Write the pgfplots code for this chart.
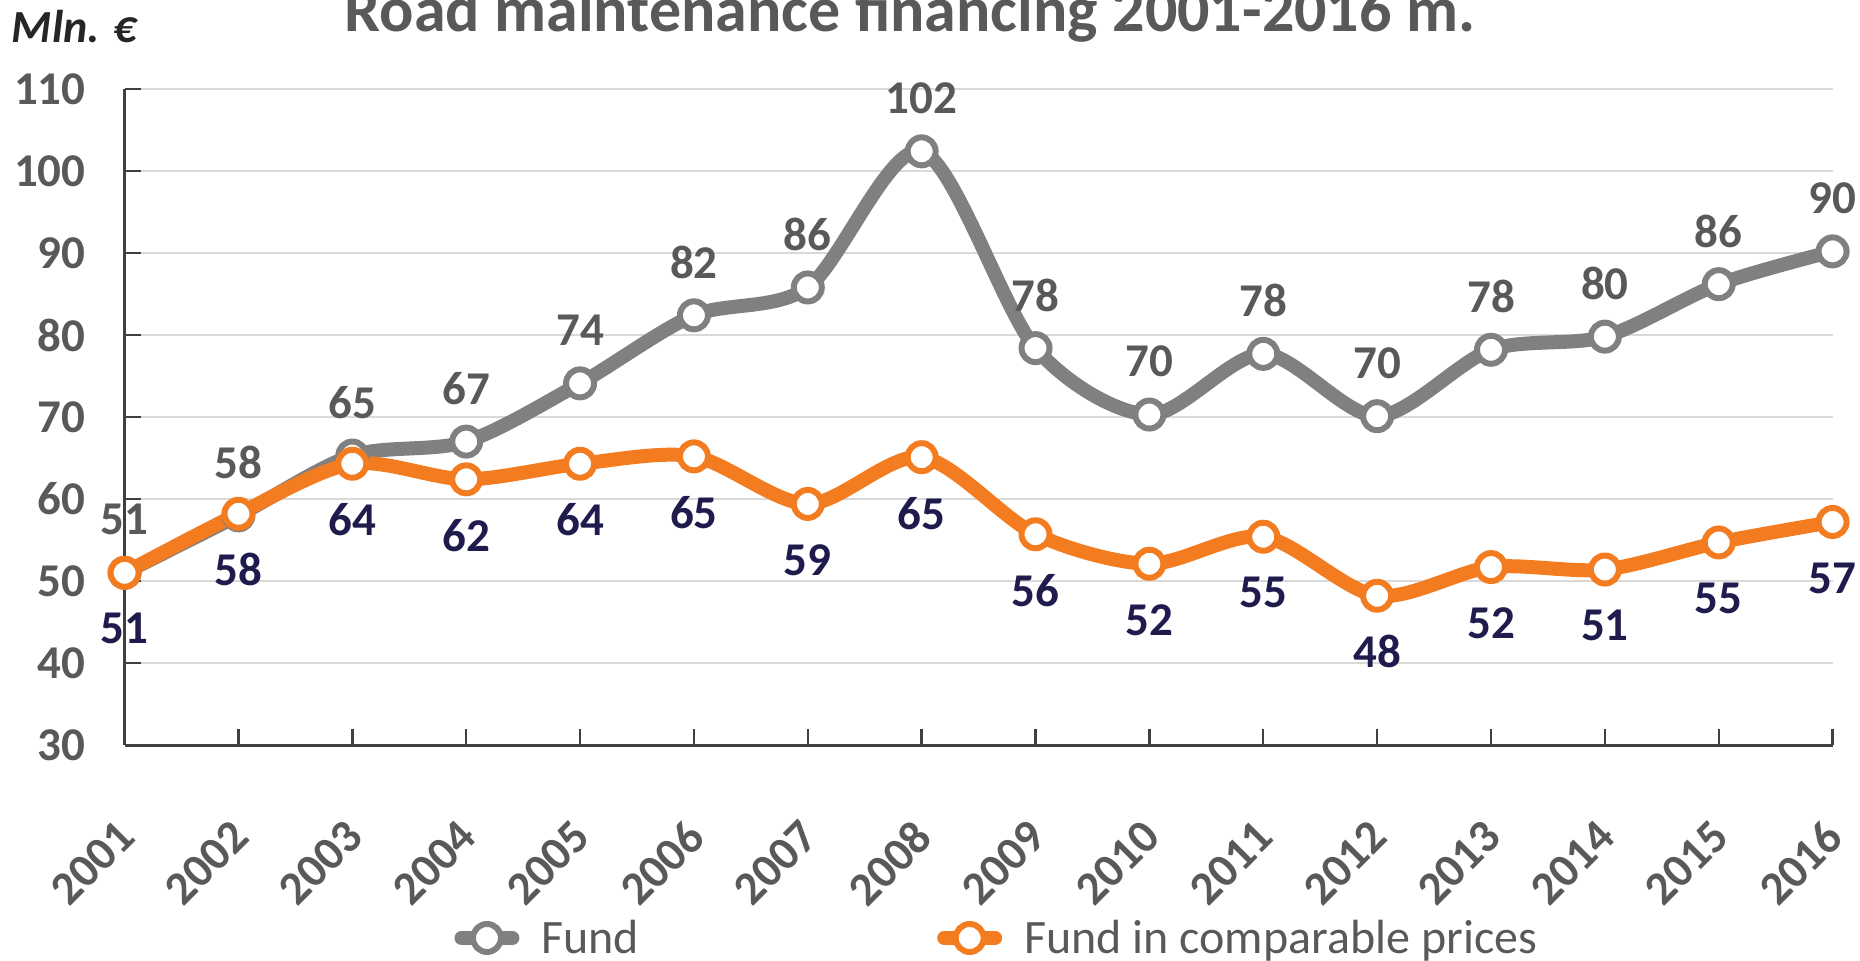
\documentclass[border=0pt]{standalone}
\usepackage{pgfplots}
\usepackage{pgfplotstable}
\usepackage{fontspec}
\setmainfont{Carlito}
\pgfplotsset{compat=1.18}
\definecolor{fundgray}{HTML}{808080}
\definecolor{txtgray}{HTML}{595959}
\definecolor{orng}{HTML}{F47C20}
\definecolor{navy}{HTML}{1F1C4D}
\definecolor{axgray}{HTML}{404040}
\definecolor{gridgray}{HTML}{D9D9D9}

\pgfplotstableread{
x y lab
0 51.0 51
1 58.0 58
2 65.3 65
3 67.0 67
4 74.1 74
5 82.4 82
6 85.8 86
7 102.4 102
8 78.4 78
9 70.3 70
10 77.7 78
11 70.1 70
12 78.2 78
13 79.8 80
14 86.2 86
15 90.2 90
}\fund
\pgfplotstableread{
x y lab
0 51.0 51
1 58.2 58
2 64.3 64
3 62.4 62
4 64.3 64
5 65.2 65
6 59.4 59
7 65.1 65
8 55.7 56
9 52.1 52
10 55.4 55
11 48.2 48
12 51.7 52
13 51.4 51
14 54.7 55
15 57.2 57
}\comp

\begin{document}
\begin{tikzpicture}
\begin{axis}[
  at={(62.3pt,107.5pt)}, anchor=south west,
  scale only axis, width=854pt, height=328pt,
  xmin=0, xmax=15, ymin=30, ymax=110,
  xtick={0,...,15},
  xticklabels={2001,2002,2003,2004,2005,2006,2007,2008,2009,2010,2011,2012,2013,2014,2015,2016},
  ytick={30,40,...,110},
  /pgf/number format/assume math mode=true,
  axis x line=bottom, axis y line=left,
  axis line style={-, line width=1.5pt, color=axgray},
  tick align=inside, major tick length=8pt,
  tick style={line width=1.2pt, color=axgray},
  ymajorgrids, grid style={line width=1pt, color=gridgray},
  ticklabel style={font=\bfseries\fontsize{23.5}{28}\selectfont, text=txtgray},
  yticklabel style={xshift=-16pt},
  xticklabel style={yshift=-42pt, xshift=1pt, rotate=45, anchor=east, inner sep=0pt},
  clip=false,
  legend columns=2,
  legend style={at={(0.1929,-0.2942)}, anchor=west, draw=none, fill=none,
    inner sep=0pt,
    font=\fontsize{24}{29}\selectfont, text=txtgray,
    /tikz/every odd column/.append style={column sep=9pt},
    /tikz/every even column/.append style={column sep=147pt}},
  legend image code/.code={
    \draw[#1, mark repeat=2, mark phase=2] plot coordinates {(3.5pt,0pt) (16.25pt,0pt) (29pt,0pt)};
  },
]
\addplot[color=fundgray, line width=7pt, smooth, line cap=round, line join=round,
  mark=*, mark size=7pt, mark options={fill=white, draw=fundgray, line width=3pt},
  nodes near coords, point meta=explicit symbolic,
  every node near coord/.append style={anchor=center, yshift=26.5pt,
    font=\bfseries\fontsize{23.5}{28}\selectfont, text=txtgray}]
  table[x=x, y=y, meta=lab] {\fund};
\addlegendentry{Fund}
\addplot[color=orng, line width=7pt, smooth, line cap=round, line join=round,
  mark=*, mark size=7pt, mark options={fill=white, draw=orng, line width=3pt},
  nodes near coords, point meta=explicit symbolic,
  every node near coord/.append style={anchor=center, yshift=-28pt,
    font=\bfseries\fontsize{23.5}{28}\selectfont, text=navy}]
  table[x=x, y=y, meta=lab] {\comp};
\addlegendentry{Fund in comparable prices}
\end{axis}
\node[anchor=base, inner sep=0pt, font=\bfseries\fontsize{32}{38}\selectfont, text=txtgray]
  at (455pt,464pt) {Road maintenance financing 2001-2016 m.};
\node[anchor=base west, inner sep=0pt, font=\bfseries\itshape\fontsize{23}{27}\selectfont, text=black!85]
  at (5.75pt,458.5pt) {Mln. €};
\pgfresetboundingbox
\useasboundingbox (0,0) rectangle (930pt,480pt);
\end{tikzpicture}
\end{document}
